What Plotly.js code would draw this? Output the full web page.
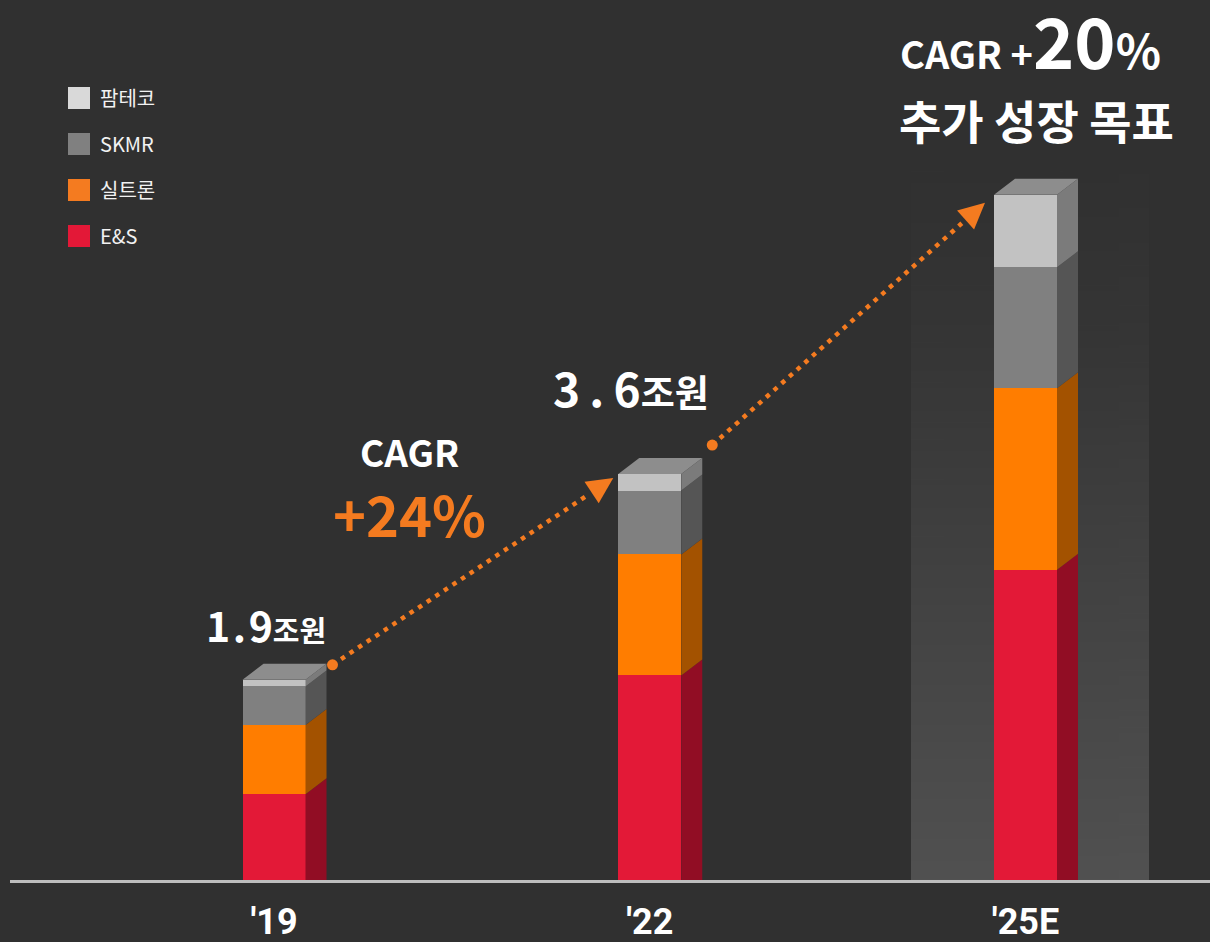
<!DOCTYPE html>
<html>
<head>
<meta charset="utf-8">
<script src="https://cdn.plot.ly/plotly-3.0.1.min.js"></script>
<style>
  html, body { margin: 0; padding: 0; background: #303030; }
  #chart { width: 1210px; height: 942px; }
</style>
</head>
<body>
<div id="chart"></div>
<script>
// 데이터 (조원, 그림에서 읽은 추정값)
const years       = ["'19", "'22", "'25E"];
const totalLabels = ['1.9', '3.6', null];
const seriesNames = ['E&S', '실트론', 'SKMR', '팜테코'];
const esVals      = [0.78, 1.86, 2.82];
const siltronVals = [0.63, 1.10, 1.65];
const skmrVals    = [0.35, 0.58, 1.10];
const pamVals     = [0.06, 0.15, 0.66];

const frontColors  = ['#e31937', '#ff7d00', '#808080', '#c2c2c2'];
const sideColors   = ['#910d24', '#a35200', '#555555', '#7b7b7b'];
const legendColors = ['#e31837', '#f47b20', '#808080', '#d9d9d9'];
const TOP_COLOR    = '#8d8d8d';
const ORANGE       = '#f47b20';
const KR_FONT      = 'Noto Sans CJK KR';

// 픽셀 <-> 데이터 변환 (플롯 영역: x 10..1210, y 0..880)
const PX_X = 375.75, X0PX = 274, PX_Y = 110, BASE_PX = 880;
const X = px => (px - X0PX) / PX_X;
const Y = py => (BASE_PX - py) / PX_Y;
const pxOf = x => X0PX + x * PX_X;
const pyOf = y => BASE_PX - y * PX_Y;
const BAR_W = 63 / PX_X, DX = 21 / PX_X, DY = 16 / PX_Y;

const xs = years.map((_, i) => i);
const stacks = [esVals, siltronVals, skmrVals, pamVals];
const totals = xs.map(i => stacks.reduce((s, arr) => s + arr[i], 0));

const traces = [];

// 앞면 (누적 막대)
stacks.forEach((vals, s) => {
  traces.push({
    x: xs, y: vals, type: 'bar', name: seriesNames[s],
    width: BAR_W, marker: { color: frontColors[s], line: { width: 0 } },
    showlegend: false, hoverinfo: 'skip'
  });
});

// 옆면
stacks.forEach((vals, s) => {
  const px = [], py = [];
  xs.forEach(i => {
    let b0 = 0;
    for (let k = 0; k < s; k++) b0 += stacks[k][i];
    const b1 = b0 + vals[i];
    const xr = i + BAR_W / 2;
    const back0 = b0 === 0 ? 0 : b0 + DY;
    px.push(xr, xr + DX, xr + DX, xr, xr, null);
    py.push(b0, back0, b1 + DY, b1, b0, null);
  });
  traces.push({
    x: px, y: py, type: 'scatter', mode: 'lines', fill: 'toself',
    fillcolor: sideColors[s], line: { width: 0 },
    hoverinfo: 'skip', showlegend: false
  });
});

// 윗면
{
  const px = [], py = [];
  xs.forEach(i => {
    const xl = i - BAR_W / 2, xr = i + BAR_W / 2, t = totals[i];
    px.push(xl, xl + DX, xr + DX, xr, xl, null);
    py.push(t, t + DY, t + DY, t, t, null);
  });
  traces.push({
    x: px, y: py, type: 'scatter', mode: 'lines', fill: 'toself',
    fillcolor: TOP_COLOR, line: { width: 0 },
    hoverinfo: 'skip', showlegend: false
  });
}

// 점선 화살표 (막대 윗면 기준 + 픽셀 오프셋)
const arrowDefs = [
  { from: 0, to: 1, s: [6, 1], e: [-5, 4] },
  { from: 1, to: 2, s: [10, -13], e: [-9, 8] }
];
arrowDefs.forEach(a => {
  const spx = pxOf(a.from + BAR_W / 2 + DX) + a.s[0];
  const spy = pyOf(totals[a.from] + DY) + a.s[1];
  const epx = pxOf(a.to - BAR_W / 2) + a.e[0];
  const epy = pyOf(totals[a.to]) + a.e[1];
  const len = Math.hypot(epx - spx, epy - spy);
  const ux = (epx - spx) / len, uy = (epy - spy) / len;   // 화면 좌표 방향
  const cut = 31, headL = 26, headW = 12.8;
  traces.push({
    x: [X(spx), X(epx - ux * cut)], y: [Y(spy), Y(epy - uy * cut)],
    type: 'scatter', mode: 'lines',
    line: { color: ORANGE, width: 4.5, dash: '4.5px,5.8px' },
    hoverinfo: 'skip', showlegend: false
  });
  traces.push({
    x: [X(spx)], y: [Y(spy)], type: 'scatter', mode: 'markers',
    marker: { color: ORANGE, size: 11 },
    hoverinfo: 'skip', showlegend: false
  });
  const bx = epx - ux * headL, by = epy - uy * headL;
  const nx = -uy, ny = ux;
  traces.push({
    x: [X(epx), X(bx + nx * headW), X(bx - nx * headW), X(epx)],
    y: [Y(epy), Y(by + ny * headW), Y(by - ny * headW), Y(epy)],
    type: 'scatter', mode: 'lines', fill: 'toself',
    fillcolor: ORANGE, line: { width: 0 },
    hoverinfo: 'skip', showlegend: false
  });
});

const annotations = [];

// 합계 라벨
const totalPos    = [[266, 624], [631, 387]];
const totalSizes  = [[41, 29], [46, 37]];
const totalSpaces = ['\u200A', '\u2009'];
totalLabels.forEach((t, i) => {
  if (!t) return;
  const num = t.replace('.', totalSpaces[i] + '.' + totalSpaces[i]);
  annotations.push({
    x: X(totalPos[i][0]), y: Y(totalPos[i][1]), xref: 'x', yref: 'y',
    text: num + '<span style="font-size:' + totalSizes[i][1] + 'px">조원</span>',
    showarrow: false, xanchor: 'center', yanchor: 'middle',
    font: { family: KR_FONT, size: totalSizes[i][0], color: '#ffffff', weight: 700 }
  });
});

annotations.push(
  { x: X(409), y: Y(451), xref: 'x', yref: 'y', text: 'CAGR', showarrow: false,
    font: { family: KR_FONT, size: 37, color: '#ffffff', weight: 700 } },
  { x: X(409), y: Y(512), xref: 'x', yref: 'y', text: '+24%', showarrow: false,
    font: { family: KR_FONT, size: 56, color: ORANGE, weight: 700 } },
  { x: X(1030), y: Y(38), xref: 'x', yref: 'y',
    text: 'CAGR +<span style="font-size:70px">20</span><span style="font-size:47px">%</span>',
    showarrow: false,
    font: { family: KR_FONT, size: 38, color: '#ffffff', weight: 700 } },
  { x: X(1036), y: Y(119), xref: 'x', yref: 'y', text: '추가 성장 목표', showarrow: false,
    font: { family: KR_FONT, size: 46, color: '#ffffff', weight: 700 } }
);

// 범례 (위에서부터 팜테코, SKMR, 실트론, E&S)
const shapes = [];
[3, 2, 1, 0].forEach((s, row) => {
  const cy = 98 + row * 46;
  shapes.push({
    type: 'rect', xref: 'x', yref: 'y',
    x0: X(68), x1: X(90), y0: Y(cy - 11), y1: Y(cy + 11),
    fillcolor: legendColors[s], line: { width: 0 }
  });
  annotations.push({
    x: X(98), y: Y(cy - 1), xref: 'x', yref: 'y', text: seriesNames[s],
    showarrow: false, xanchor: 'left', yanchor: 'middle',
    font: { family: KR_FONT, size: 20, color: '#f2f2f2' }
  });
});

// '25E 뒤 배경 강조 (세로 그라데이션)
function gradientURL() {
  const c = document.createElement('canvas');
  c.width = 4; c.height = 256;
  const g = c.getContext('2d');
  const grd = g.createLinearGradient(0, 0, 0, 256);
  grd.addColorStop(0, '#303030');
  grd.addColorStop(0.25, '#353535');
  grd.addColorStop(1, '#515151');
  g.fillStyle = grd;
  g.fillRect(0, 0, 4, 256);
  return c.toDataURL('image/png');
}
const hx0 = 2 + X(911) - X(1025.5), hx1 = 2 + X(1149) - X(1025.5);
const images = [{
  source: gradientURL(), xref: 'x', yref: 'y',
  x: hx0, y: Y(150), sizex: hx1 - hx0, sizey: Y(150),
  xanchor: 'left', yanchor: 'top', sizing: 'stretch', layer: 'below'
}];

const layout = {
  width: 1210, height: 942,
  margin: { l: 10, r: 0, t: 0, b: 62 },
  paper_bgcolor: '#303030', plot_bgcolor: 'rgba(0,0,0,0)',
  barmode: 'stack', showlegend: false,
  xaxis: {
    range: [X(10), X(1210)], tickvals: xs, ticktext: years,
    tickfont: { family: 'Roboto', size: 36, color: '#ffffff', weight: 700 },
    ticks: '', ticklabelstandoff: 8,
    showline: true, linecolor: '#bdbdbd', linewidth: 3,
    showgrid: false, zeroline: false, fixedrange: true
  },
  yaxis: {
    range: [0, Y(0)], visible: false, fixedrange: true
  },
  annotations: annotations,
  shapes: shapes,
  images: images
};

Plotly.newPlot('chart', traces, layout, { displayModeBar: false, staticPlot: true });
</script>
</body>
</html>
